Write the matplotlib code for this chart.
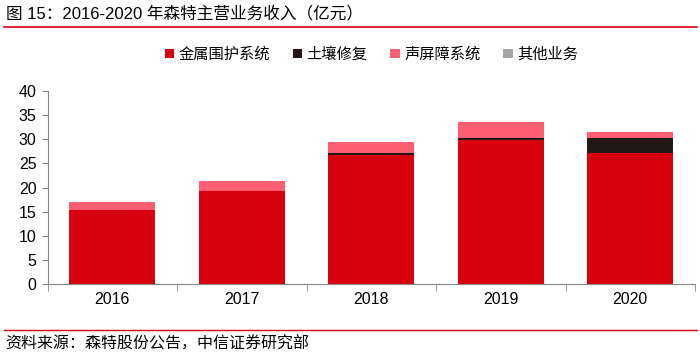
import matplotlib
matplotlib.use("Agg")
import matplotlib.pyplot as plt
import numpy as np
from matplotlib.lines import Line2D

plt.rcParams['font.family'] = ['Liberation Sans', 'Noto Sans CJK SC', 'DejaVu Sans']

years = ['2016', '2017', '2018', '2019', '2020']
series_names = ['金属围护系统', '土壤修复', '声屏障系统', '其他业务']
metal = [15.3, 19.35, 26.85, 29.95, 27.1]
soil = [0.0, 0.0, 0.4, 0.4, 3.2]
noise = [1.65, 2.0, 2.15, 3.3, 1.3]
other = [0.02, 0.02, 0.02, 0.02, 0.02]
colors = ['#D7000F', '#231815', '#FF5F73', '#A5A5A5']
yticks = [0, 5, 10, 15, 20, 25, 30, 35, 40]

fig = plt.figure(figsize=(7.0, 3.56), dpi=100)
ax = fig.add_axes([0.068, 0.202, 0.925, 0.542])

x = np.arange(len(years))
bottom = np.zeros(len(years))
for name, vals, c in zip(series_names, [metal, soil, noise, other], colors):
    ax.bar(x, vals, width=0.665, bottom=bottom, color=c, label=name,
           linewidth=0, zorder=2)
    bottom = bottom + np.array(vals)

ax.set_xlim(-0.5, len(years) - 0.5)
ax.set_ylim(0, 40)
ax.set_yticks(yticks)
ax.set_yticklabels([str(t) for t in yticks], fontsize=11.5)
ax.set_xticks(x)
ax.set_xticklabels(years, fontsize=11.5)
ax.tick_params(axis='x', which='major', length=0, pad=6)
ax.set_xticks(np.arange(-0.5, len(years), 1.0), minor=True)
ax.tick_params(axis='x', which='minor', length=5, color='#888888', direction='out')
ax.tick_params(axis='y', length=4, color='#888888', direction='out', pad=4)
for s in ['top', 'right']:
    ax.spines[s].set_visible(False)
for s in ['left', 'bottom']:
    ax.spines[s].set_color('#888888')
    ax.spines[s].set_linewidth(0.8)

leg = ax.legend(loc='lower center', bbox_to_anchor=(0.5, 1.08), ncol=4, frameon=False,
                fontsize=11, handlelength=0.6, handleheight=0.6, handletextpad=0.3,
                columnspacing=1.5)

fig.text(0.008, 0.962, '图 15：2016-2020 年森特主营业务收入（亿元）', fontsize=12,
         ha='left', va='center')
fig.add_artist(Line2D([0.005, 0.995], [0.925, 0.925], color='#D7000F', linewidth=1.2,
                      transform=fig.transFigure))
fig.add_artist(Line2D([0.005, 0.995], [0.073, 0.073], color='#D7000F', linewidth=1.0,
                      transform=fig.transFigure))
fig.text(0.008, 0.035, '资料来源：森特股份公告，中信证券研究部', fontsize=11.5,
         ha='left', va='center')

fig.savefig('out.png', dpi=100)
